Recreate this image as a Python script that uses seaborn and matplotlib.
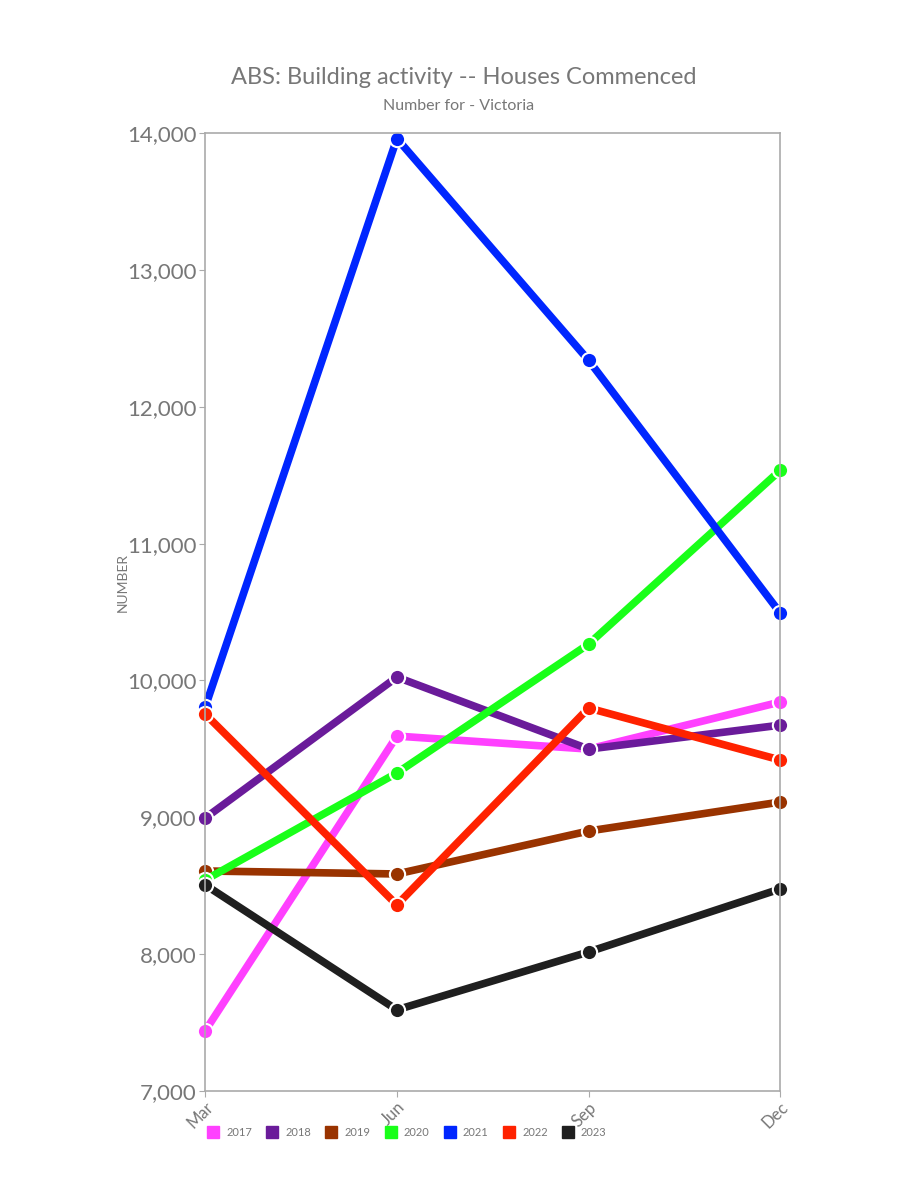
import pandas as pd
import seaborn as sns
import matplotlib.pyplot as plt
from matplotlib.lines import Line2D

quarters = ['Mar', 'Jun', 'Sep', 'Dec']
years = ['2017', '2018', '2019', '2020', '2021', '2022', '2023']
colors = ['#ff40ff', '#6a1b9a', '#993300', '#19ff19', '#0026ff', '#ff2200', '#1f1f1f']

v2017 = [7438, 9593, 9498, 9842]
v2018 = [8994, 10024, 9498, 9673]
v2019 = [8607, 8585, 8899, 9111]
v2020 = [8541, 9323, 10265, 11536]
v2021 = [9805, 13961, 12340, 10492]
v2022 = [9754, 8359, 9798, 9418]
v2023 = [8505, 7592, 8015, 8476]

series = [v2017, v2018, v2019, v2020, v2021, v2022, v2023]
rows = []
for yr, vals in zip(years, series):
    for q, v in zip(quarters, vals):
        rows.append({'Quarter': q, 'Year': yr, 'Number': v})
df = pd.DataFrame(rows)

sns.set_style('white')
plt.rcParams['font.family'] = ['Lato', 'DejaVu Sans']
grey = '#777777'

fig = plt.figure(figsize=(9, 12), dpi=100)
ax = fig.add_axes([0.228, 0.091, 0.639, 0.798])

sns.lineplot(data=df, x='Quarter', y='Number', hue='Year', palette=colors,
             sort=False, linewidth=5.5, marker='o', markersize=11,
             markeredgecolor='white', markeredgewidth=1.5, legend=False, ax=ax)

ax.set_xlim(0, 3)
ax.set_ylim(7000, 14000)
ax.set_yticks(range(7000, 14001, 1000))
ax.set_yticklabels([f'{t:,}' for t in range(7000, 14001, 1000)], fontsize=16, color=grey)
ax.set_xticks(range(4))
ax.set_xticklabels(quarters, rotation=45, ha='right', va='top', fontsize=12, color=grey,
                   rotation_mode='anchor')
ax.tick_params(axis='both', length=4, color='#aaaaaa', direction='out', pad=2)
ax.tick_params(axis='y', left=True)
ax.tick_params(axis='x', bottom=True)
for sp in ax.spines.values():
    sp.set_color('#aaaaaa')
    sp.set_linewidth(1.2)
for ln in ax.lines:
    ln.set_clip_on(False)

ax.set_xlabel('')
ax.set_ylabel('')
fig.text(123 / 900, 1 - 583 / 1200, 'NUMBER', rotation=90, ha='center', va='center',
         fontsize=10, color=grey)

fig.text(0.515, 1 - 77 / 1200, 'ABS: Building activity -- Houses Commenced', ha='center',
         va='center', fontsize=17, color=grey)
fig.text(0.51, 1 - 106 / 1200, 'Number for - Victoria', ha='center', va='center',
         fontsize=11.5, color=grey)

handles = [Line2D([], [], marker='s', linestyle='', markersize=9, color=c, label=y)
           for y, c in zip(years, colors)]
fig.legend(handles=handles, loc='center', bbox_to_anchor=(407 / 900, 1 - 1132 / 1200), ncol=7,
           frameon=False, fontsize=8, labelcolor=grey, handlelength=1.0, handletextpad=0.7,
           columnspacing=1.3)

fig.savefig('out.png', dpi=100)
